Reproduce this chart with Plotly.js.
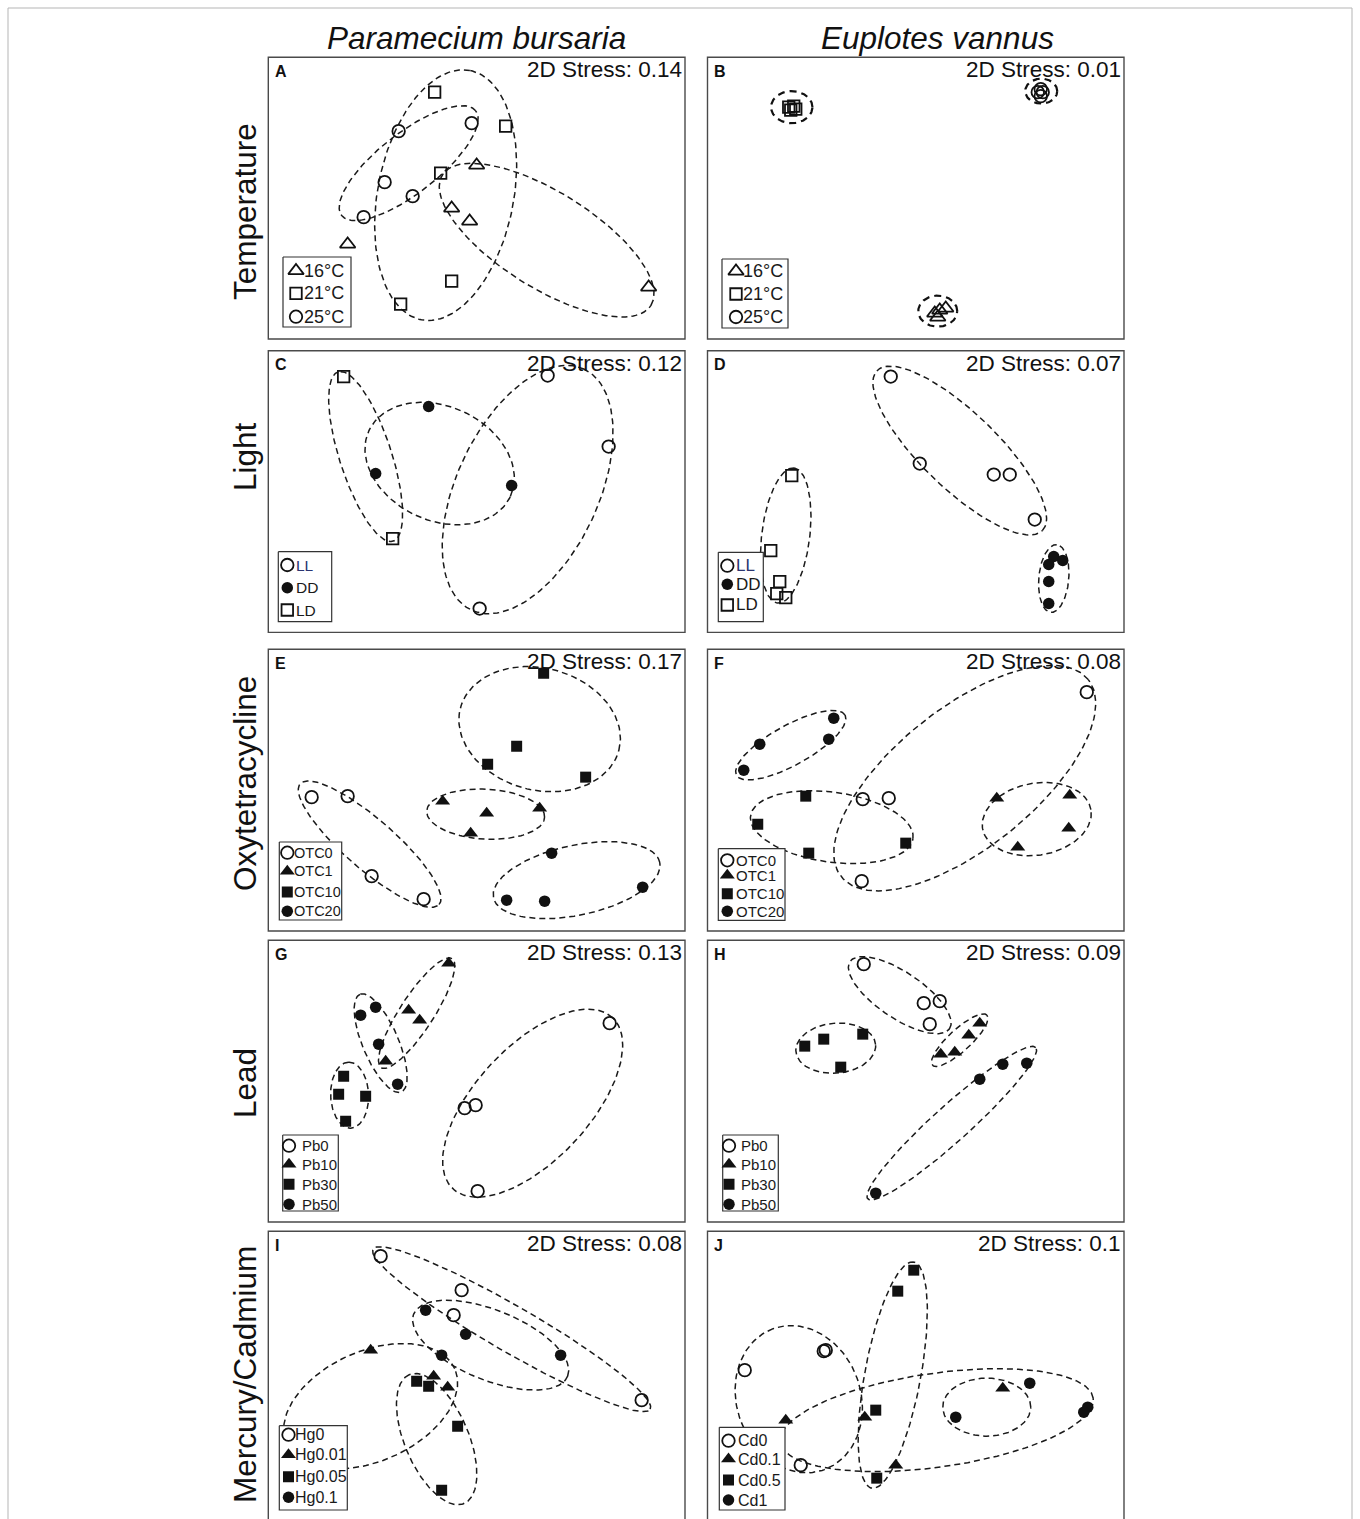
<!DOCTYPE html>
<html><head><meta charset="utf-8">
<script src="https://cdn.plot.ly/plotly-3.0.1.min.js"></script>
<style>html,body{margin:0;padding:0;background:#fff;}#chart{width:1360px;height:1519px;}</style>
</head><body><div id="chart"></div>
<script>
// ================= DATA (NMDS coordinates) =================
const colTitles = ['Paramecium bursaria', 'Euplotes vannus'];
const rowTitles = ['Temperature', 'Light', 'Oxytetracycline', 'Lead', 'Mercury/Cadmium'];
const panelLetters = ['A','B','C','D','E','F','G','H','I','J'];
const stressValues = ['0.14','0.01','0.12','0.07','0.17','0.08','0.13','0.09','0.08','0.1'];

const tempLabels = ['16°C','21°C','25°C'];
const lightLabels = ['LL','DD','LD'];
const otcLabels = ['OTC0','OTC1','OTC10','OTC20'];
const pbLabels = ['Pb0','Pb10','Pb30','Pb50'];
const hgLabels = ['Hg0','Hg0.01','Hg0.05','Hg0.1'];
const cdLabels = ['Cd0','Cd0.1','Cd0.5','Cd1'];

// ellipse parameters: [centerX, centerY, semiMajor, semiMinor, angleDeg]
// Panel A – P. bursaria, temperature
const A_16_x = [0.00,-0.25,-0.07,-1.29,1.72], A_16_y = [0.33,-0.10,-0.23,-0.46,-0.89], A_16_ell = [0.70,-0.42,1.23,0.48,-32];
const A_21_x = [-0.42,0.29,-0.36,-0.25,-0.76], A_21_y = [1.06,0.72,0.25,-0.83,-1.06], A_21_ell = [-0.31,0.03,1.27,0.68,79];
const A_25_x = [-0.78,-0.05,-0.92,-0.64,-1.13], A_25_y = [0.67,0.75,0.16,0.02,-0.19], A_25_ell = [-0.68,0.35,0.85,0.30,38];
// Panel B – E. vannus, temperature
const B_16_x = [0.19,0.24,0.30,0.22], B_16_y = [-1.15,-1.12,-1.10,-1.19], B_16_ell = [0.22,-1.13,0.195,0.155,0];
const B_21_x = [-1.27,-1.22,-1.20,-1.25], B_21_y = [0.91,0.92,0.89,0.88], B_21_ell = [-1.24,0.91,0.207,0.16,0];
const B_25_x = [1.22,1.27,1.25,1.25], B_25_y = [1.06,1.06,1.09,1.02], B_25_ell = [1.255,1.07,0.16,0.125,0];
// Panel C – P. bursaria, light
const C_LL_x = [0.71,1.32,0.03], C_LL_y = [1.16,0.45,-1.17], C_LL_ell = [0.51,0.02,1.33,0.71,65];
const C_DD_x = [-0.48,-1.01,0.35], C_DD_y = [0.85,0.18,0.06], C_DD_ell = [-0.37,0.28,0.78,0.57,-25];
const C_LD_x = [-1.33,-0.84], C_LD_y = [1.15,-0.47], C_LD_ell = [-1.11,0.35,0.89,0.26,108];
// Panel D – E. vannus, light
const D_LL_x = [-0.25,0.04,0.78,0.94,1.19], D_LL_y = [1.15,0.28,0.17,0.17,-0.28], D_LL_ell = [0.44,0.41,1.15,0.38,-44];
const D_DD_x = [1.38,1.47,1.33,1.33,1.33], D_DD_y = [-0.65,-0.69,-0.73,-0.90,-1.12], D_DD_ell = [1.38,-0.87,0.34,0.15,85];
const D_LD_x = [-1.24,-1.45,-1.36,-1.39,-1.30], D_LD_y = [0.16,-0.59,-0.90,-1.02,-1.06], D_LD_ell = [-1.30,-0.44,0.68,0.24,83];
// Panel E – P. bursaria, oxytetracycline
const E_0_x = [-1.65,-1.29,-1.05,-0.53], E_0_y = [-0.07,-0.06,-0.86,-1.09], E_0_ell = [-1.07,-0.54,0.92,0.25,-41];
const E_1_x = [-0.34,0.10,0.63,-0.06], E_1_y = [-0.11,-0.23,-0.18,-0.43], E_1_ell = [0.09,-0.24,0.59,0.25,-3];
const E_10_x = [0.67,0.40,0.11,1.09], E_10_y = [1.17,0.44,0.26,0.13], E_10_ell = [0.63,0.61,0.82,0.61,-15];
const E_20_x = [0.75,1.66,0.30,0.68], E_20_y = [-0.63,-0.97,-1.10,-1.11], E_20_ell = [1.00,-0.90,0.85,0.35,12];
// Panel F – E. vannus, oxytetracycline
const F_0_x = [1.71,-0.53,-0.27,-0.54], F_0_y = [0.98,-0.09,-0.08,-0.91], F_0_ell = [0.49,0.12,1.58,0.70,38.6];
const F_1_x = [0.81,1.54,1.53,1.02], F_1_y = [-0.08,-0.05,-0.38,-0.57], F_1_ell = [1.21,-0.29,0.55,0.36,10];
const F_10_x = [-1.10,-1.58,-1.07,-0.10], F_10_y = [-0.06,-0.34,-0.63,-0.53], F_10_ell = [-0.84,-0.37,0.82,0.35,-8];
const F_20_x = [-0.82,-0.87,-1.56,-1.72], F_20_y = [0.72,0.51,0.46,0.20], F_20_ell = [-1.25,0.45,0.62,0.20,29];
// Panel G – P. bursaria, lead
const G_0_x = [1.33,-0.12,-0.01,0.01], G_0_y = [0.58,-0.27,-0.24,-1.10], G_0_ell = [0.56,-0.22,1.17,0.57,47];
const G_10_x = [-0.28,-0.68,-0.57,-0.91], G_10_y = [1.18,0.71,0.61,0.20], G_10_ell = [-0.60,0.68,0.65,0.17,57];
const G_30_x = [-1.33,-1.38,-1.11,-1.31], G_30_y = [0.05,-0.13,-0.15,-0.40], G_30_ell = [-1.27,-0.14,0.33,0.19,92];
const G_50_x = [-1.01,-1.16,-0.98,-0.79], G_50_y = [0.74,0.66,0.37,-0.03], G_50_ell = [-0.96,0.38,0.53,0.18,113];
// Panel H – E. vannus, lead
const H_0_x = [-0.52,0.08,0.24,0.14], H_0_y = [1.17,0.78,0.80,0.57], H_0_ell = [-0.16,0.86,0.60,0.23,-34];
const H_10_x = [0.64,0.53,0.39,0.25], H_10_y = [0.58,0.46,0.29,0.27], H_10_ell = [0.44,0.41,0.37,0.11,42.5];
const H_30_x = [-1.11,-0.92,-0.53,-0.75], H_30_y = [0.35,0.42,0.47,0.14], H_30_ell = [-0.80,0.33,0.40,0.25,5];
const H_50_x = [0.87,1.11,0.64,-0.40], H_50_y = [0.17,0.18,0.02,-1.12], H_50_ell = [0.36,-0.42,1.13,0.18,42];
// Panel I – P. bursaria, mercury
const I_0_x = [-0.96,-0.15,-0.23,1.65], I_0_y = [1.16,0.82,0.57,-0.28], I_0_ell = [0.35,0.43,1.60,0.23,-30];
const I_001_x = [-1.06,-0.43,-0.29], I_001_y = [0.22,-0.04,-0.15], I_001_ell = [-1.06,-0.34,0.92,0.55,24];
const I_005_x = [-0.60,-0.48,-0.19,-0.35], I_005_y = [-0.09,-0.14,-0.54,-1.18], I_005_ell = [-0.40,-0.67,0.70,0.32,113];
const I_01_x = [-0.51,-0.11,-0.35,0.84], I_01_y = [0.62,0.38,0.17,0.17], I_01_ell = [0.14,0.27,0.83,0.35,-22];
// Panel J – E. vannus, cadmium
const J_0_x = [-1.71,-0.92,-0.90,-1.15], J_0_y = [0.02,0.21,0.22,-0.93], J_0_ell = [-1.17,-0.27,0.75,0.62,110];
const J_01_x = [-1.30,-0.51,-0.20,0.87], J_01_y = [-0.48,-0.45,-0.93,-0.16], J_01_ell = [0.21,-0.48,1.58,0.47,8];
const J_05_x = [-0.02,-0.18,-0.40,-0.39], J_05_y = [1.02,0.81,-0.38,-1.06], J_05_ell = [-0.23,-0.03,1.15,0.28,79.5];
const J_1_x = [1.14,0.40,1.72,1.68], J_1_y = [-0.11,-0.45,-0.35,-0.40], J_1_ell = [0.71,-0.35,0.44,0.29,0];

// ================= LAYOUT / STYLE =================
const W = 1360, H = 1519, PXU = 100; // pixels per NMDS unit
const FONT = 'Liberation Sans, Arial, Helvetica, sans-serif';
const COL_LEFT = [268.3, 707.5], COL_W = [416.7, 416.5];
const ROW_TOP = [57.3, 350.7, 649.3, 940.3, 1231.3], PANEL_H = 281.7;
const TRI_O='triangle-up-open', SQ_O='square-open', CI_O='circle-open', CI='circle', SQ='square', TRI='triangle-up';
const symTemp = [TRI_O, SQ_O, CI_O], symLight = [CI_O, CI, SQ_O], symConc = [CI_O, TRI, SQ, CI];

const panels = [
 {row:0,col:0,labels:tempLabels,sym:symTemp,xs:[A_16_x,A_21_x,A_25_x],ys:[A_16_y,A_21_y,A_25_y],ell:[A_16_ell,A_21_ell,A_25_ell],
  leg:{box:[283,257,351,327],sx:296,tx:302.5,ys:[270.7,293.3,316.7],fs:18}},
 {row:0,col:1,labels:tempLabels,sym:symTemp,xs:[B_16_x,B_21_x,B_25_x],ys:[B_16_y,B_21_y,B_25_y],ell:[B_16_ell,B_21_ell,B_25_ell],thick:true,
  leg:{box:[722,259,788,328],sx:736,tx:742.5,ys:[271.2,294,317],fs:18}},
 {row:1,col:0,labels:lightLabels,sym:symLight,xs:[C_LL_x,C_DD_x,C_LD_x],ys:[C_LL_y,C_DD_y,C_LD_y],ell:[C_LL_ell,C_DD_ell,C_LD_ell],
  leg:{box:[278.3,551.7,331.7,621.7],sx:287.3,tx:295,ys:[565,587.7,610],fs:15.5}},
 {row:1,col:1,labels:lightLabels,sym:symLight,xs:[D_LL_x,D_DD_x,D_LD_x],ys:[D_LL_y,D_DD_y,D_LD_y],ell:[D_LL_ell,D_DD_ell,D_LD_ell],
  leg:{box:[718.3,552.3,763.3,621.7],sx:727.3,tx:734.5,ys:[565.7,584.3,605],fs:17}},
 {row:2,col:0,labels:otcLabels,sym:symConc,xs:[E_0_x,E_1_x,E_10_x,E_20_x],ys:[E_0_y,E_1_y,E_10_y,E_20_y],ell:[E_0_ell,E_1_ell,E_10_ell,E_20_ell],
  leg:{box:[279.3,842,341.7,920],sx:287.3,tx:293,ys:[852.7,871.3,892,911.3],fs:14.5}},
 {row:2,col:1,labels:otcLabels,sym:symConc,xs:[F_0_x,F_1_x,F_10_x,F_20_x],ys:[F_0_y,F_1_y,F_10_y,F_20_y],ell:[F_0_ell,F_1_ell,F_10_ell,F_20_ell],
  leg:{box:[718.3,848.7,785,920.3],sx:727.3,tx:734.5,ys:[860.3,875.3,893.7,911.3],fs:15}},
 {row:3,col:0,labels:pbLabels,sym:symConc,xs:[G_0_x,G_10_x,G_30_x,G_50_x],ys:[G_0_y,G_10_y,G_30_y,G_50_y],ell:[G_0_ell,G_10_ell,G_30_ell,G_50_ell],
  leg:{box:[282.7,1135,338.3,1211],sx:289,tx:300.5,ys:[1145.7,1164.3,1184.3,1204.3],fs:15}},
 {row:3,col:1,labels:pbLabels,sym:symConc,xs:[H_0_x,H_10_x,H_30_x,H_50_x],ys:[H_0_y,H_10_y,H_30_y,H_50_y],ell:[H_0_ell,H_10_ell,H_30_ell,H_50_ell],
  leg:{box:[722.7,1135,778.3,1211],sx:729,tx:740.5,ys:[1145.7,1164.3,1184.3,1204.3],fs:15}},
 {row:4,col:0,labels:hgLabels,sym:symConc,xs:[I_0_x,I_001_x,I_005_x,I_01_x],ys:[I_0_y,I_001_y,I_005_y,I_01_y],ell:[I_0_ell,I_001_ell,I_005_ell,I_01_ell],
  leg:{box:[279.3,1425.7,347.3,1510],sx:288.5,tx:294,ys:[1434.7,1454.7,1476.7,1497.3],fs:16}},
 {row:4,col:1,labels:cdLabels,sym:symConc,xs:[J_0_x,J_01_x,J_05_x,J_1_x],ys:[J_0_y,J_01_y,J_05_y,J_1_y],ell:[J_0_ell,J_01_ell,J_05_ell,J_1_ell],
  leg:{box:[719.3,1427.3,785,1510],sx:728.5,tx:736.5,ys:[1440.7,1459,1480,1500],fs:16}}
];

function markerStyle(sym){
  const sizes = {'circle-open':12.5,'square-open':11.5,'triangle-up-open':13.5,'circle':11.5,'square':11,'triangle-up':13};
  const open = sym.endsWith('-open');
  return {symbol:sym, size:sizes[sym], color:'#111', line:{color:'#111', width: open?1.8:0}};
}
function ellipsePts(p){
  const [cx,cy,a,b,ang]=p, t=ang*Math.PI/180, xs=[], ys=[], n=160;
  for(let i=0;i<=n;i++){
    const th=2*Math.PI*i/n, ex=a*Math.cos(th), ey=b*Math.sin(th);
    xs.push(cx+ex*Math.cos(t)-ey*Math.sin(t));
    ys.push(cy+ex*Math.sin(t)+ey*Math.cos(t));
  }
  return [xs,ys];
}

const traces = [], shapes = [], annotations = [];
const layout = {width:W, height:H, margin:{l:0,r:0,t:0,b:0}, paper_bgcolor:'#fff', plot_bgcolor:'rgba(0,0,0,0)', showlegend:false};

panels.forEach((p,k)=>{
  const n = k+1, xa = 'x'+(n>1?n:''), ya = 'y'+(n>1?n:'');
  const left = COL_LEFT[p.col], right = left + COL_W[p.col];
  const top = ROW_TOP[p.row], bottom = p.row===4 ? H : top + PANEL_H;
  const cx = left + COL_W[p.col]/2, cy = top + PANEL_H/2;
  const ax = {showgrid:false, zeroline:false, showticklabels:false, showline:false, ticks:'', fixedrange:true};
  layout['xaxis'+(n>1?n:'')] = Object.assign({}, ax, {domain:[left/W, right/W], range:[(left-cx)/PXU, (right-cx)/PXU], anchor:ya});
  layout['yaxis'+(n>1?n:'')] = Object.assign({}, ax, {domain:[1-bottom/H, 1-top/H], range:[(cy-bottom)/PXU, (cy-top)/PXU], anchor:xa});
  const ux = px => (px-cx)/PXU, uy = py => (cy-py)/PXU;

  // ellipses
  p.ell.forEach(e=>{
    const [ex,ey] = ellipsePts(e);
    traces.push({type:'scatter', mode:'lines', x:ex, y:ey, xaxis:xa, yaxis:ya, hoverinfo:'skip',
      line: p.thick ? {color:'#111', width:2.2, dash:'7px,5px'} : {color:'#1a1a1a', width:1.5, dash:'6px,4px'}});
  });
  // points
  p.xs.forEach((xv,g)=>{
    traces.push({type:'scatter', mode:'markers', x:xv, y:p.ys[g], xaxis:xa, yaxis:ya, name:p.labels[g],
      marker: markerStyle(p.sym[g]), hoverinfo:'skip'});
  });
  // legend box
  const b = p.leg.box;
  traces.push({type:'scatter', mode:'lines', x:[ux(b[0]),ux(b[2]),ux(b[2]),ux(b[0]),ux(b[0])],
    y:[uy(b[1]),uy(b[1]),uy(b[3]),uy(b[3]),uy(b[1])], fill:'toself', fillcolor:'#fff',
    line:{color:'#333', width:1.2}, xaxis:xa, yaxis:ya, hoverinfo:'skip'});
  p.labels.forEach((lab,g)=>{
    traces.push({type:'scatter', mode:'markers', x:[ux(p.leg.sx)], y:[uy(p.leg.ys[g])], xaxis:xa, yaxis:ya,
      marker: markerStyle(p.sym[g]), hoverinfo:'skip'});
    annotations.push({xref:'paper', yref:'paper', x:p.leg.tx/W, y:1-p.leg.ys[g]/H, xanchor:'left', yanchor:'middle',
      text:lab, showarrow:false, borderpad:0,
      font:{family:FONT, size:p.leg.fs, color: lab==='LL' ? '#2a3470' : '#1a1a1a'}});
  });
  // panel border
  shapes.push({type:'rect', xref:'paper', yref:'paper', x0:left/W, x1:right/W,
    y0: p.row===4 ? -0.02 : 1-bottom/H, y1:1-top/H, line:{color:'#4a4a4a', width:1.4}, layer:'above'});
  // stress text and letter
  annotations.push({xref:'paper', yref:'paper', x:(right-2.5)/W, y:1-(top+12.5)/H, xanchor:'right', yanchor:'middle',
    text:'2D Stress: '+stressValues[k], showarrow:false, borderpad:0, font:{family:FONT, size:22.5, color:'#111'}});
  annotations.push({xref:'paper', yref:'paper', x:(left+5.5)/W, y:1-(top+14)/H, xanchor:'left', yanchor:'middle',
    text:'<b>'+panelLetters[k]+'</b>', showarrow:false, borderpad:0, font:{family:FONT, size:16, color:'#111'}});
});

// column titles
[476.5, 937].forEach((x,i)=>annotations.push({xref:'paper', yref:'paper', x:x/W, y:1-38/H, xanchor:'center', yanchor:'middle',
  text:'<i>'+colTitles[i]+'</i>', showarrow:false, font:{family:FONT, size:31.5, color:'#111'}}));
// row titles
[212, 457, 784, 1083, 1375].forEach((y,i)=>annotations.push({xref:'paper', yref:'paper', x:245/W, y:1-y/H, xanchor:'center', yanchor:'middle',
  textangle:-90, text:rowTitles[i], showarrow:false, font:{family:FONT, size:31.5, color:'#111'}}));
// outer frame
shapes.push({type:'rect', xref:'paper', yref:'paper', x0:8/W, x1:1352/W, y0:-0.02, y1:1-8/H, line:{color:'#b5b5b5', width:1}, layer:'above'});

layout.shapes = shapes;
layout.annotations = annotations;
Plotly.newPlot('chart', traces, layout, {staticPlot:true, displayModeBar:false});
</script></body></html>
